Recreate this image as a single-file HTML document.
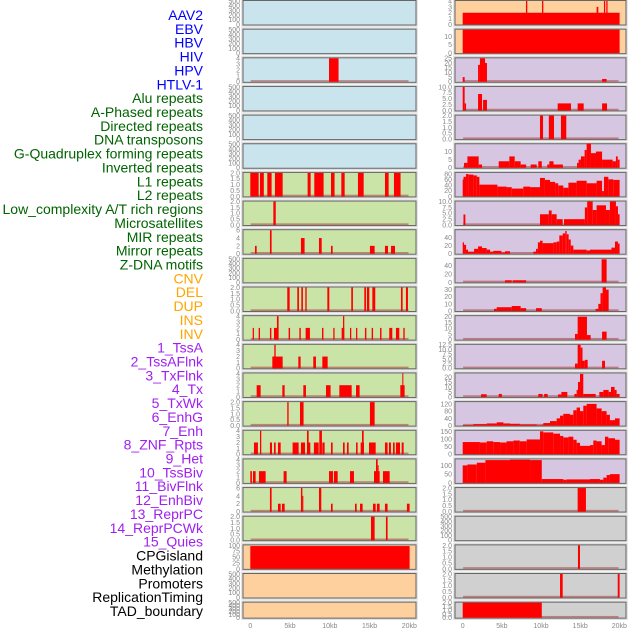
<!DOCTYPE html>
<html><head><meta charset="utf-8"><style>
html,body{margin:0;padding:0;background:#fff;width:630px;height:630px;overflow:hidden}
svg{display:block}
.lbl{font-family:"Liberation Sans",sans-serif;font-size:14px;text-anchor:end}
.tk{font-family:"Liberation Sans",sans-serif;font-size:7px;fill:#888;text-anchor:end}
.xt{font-family:"Liberation Sans",sans-serif;font-size:7px;fill:#888;text-anchor:middle}
</style></head><body>
<svg id="chart" width="630" height="630"></svg>
<script>
const labelNames = ["AAV2","EBV","HBV","HIV","HPV","HTLV-1","Alu repeats","A-Phased repeats","Directed repeats","DNA transposons","G-Quadruplex forming repeats","Inverted repeats","L1 repeats","L2 repeats","Low_complexity A/T rich regions","Microsatellites","MIR repeats","Mirror repeats","Z-DNA motifs","CNV","DEL","DUP","INS","INV","1_TssA","2_TssAFlnk","3_TxFlnk","4_Tx","5_TxWk","6_EnhG","7_Enh","8_ZNF_Rpts","9_Het","10_TssBiv","11_BivFlnk","12_EnhBiv","13_ReprPC","14_ReprPCWk","15_Quies","CPGisland","Methylation","Promoters","ReplicationTiming","TAD_boundary"];
const labelColors = ["#0000ff","#0000ff","#0000ff","#0000ff","#0000ff","#0000ff","#006400","#006400","#006400","#006400","#006400","#006400","#006400","#006400","#006400","#006400","#006400","#006400","#006400","#ffa500","#ffa500","#ffa500","#ffa500","#ffa500","#a020f0","#a020f0","#a020f0","#a020f0","#a020f0","#a020f0","#a020f0","#a020f0","#a020f0","#a020f0","#a020f0","#a020f0","#a020f0","#a020f0","#a020f0","#000","#000","#000","#000","#000"];
const panelBg = {blue:"#c9e4ec",green:"#cae3a7",orange:"#fdd09e",purple:"#d6c6e1",gray:"#d0d0d0"};
const panelKinds = ["blue","blue","blue","blue","blue","blue","green","green","green","green","green","green","green","green","green","green","green","green","green","orange","orange","orange","orange","orange","purple","purple","purple","purple","purple","purple","purple","purple","purple","purple","purple","purple","purple","purple","purple","gray","gray","gray","gray","gray"];
const T500=[0,100,200,300,400,500], T2=[0,0.5,1,1.5,2], T4=[0,1,2,3,4], T6=[0,2,4,6];
const panelTicks = [T500,T500,T4,T500,T500,T500,T2,T2,T6,T500,T2,T4,T4,T4,T2,T4,T4,T6,T2,[0,25,50,75,100],T500,T500,
  T4,[0,5,10],[0,5,10,15,20,25],[0,2.5,5,7.5,10],T2,[0,5,10],[0,20,40,60,80],[0,2.5,5,7.5,10],[0,20,40],[0,20,40],[0,10,20,30],[0,5,10,15,20],[0,2.5,5,7.5,10,12.5],[0,5,10,15,20],[0,40,80,120],[0,50,100,150],[0,50,100],T2,T500,T2,T2,T2];
const panelYMax = [500,500,4,500,500,500,2,2,6,500,2,4,4,4,2,4,4,6,2,100,500,500,
  4,14,25,10,2,14.5,84,10,58,56,33,20.5,12.5,23.5,130,154,134,2,500,2,2,2];
const panelBars = [
 [],[],[[9.9,11.1,4]],[],[],[],
 [[0,1.05,2],[1.22,1.7,2],[2.14,2.68,2],[3.1,4.07,2],[7.21,7.59,2],[8.05,9.22,2],[10.15,10.6,2],[11.45,11.87,2],[13.54,14.26,2],[16.94,17.4,2],[18.07,18.9,2]],
 [[2.9,3.2,2]],
 [[0.59,0.8,2],[2.47,2.68,6],[6.37,6.83,4],[8.64,8.98,4],[10.15,10.36,2],[15.05,15.64,2],[16.94,17.32,2],[17.7,18.2,2]],
 [],
 [[4.65,4.95,2],[5.91,6.12,2],[6.42,6.62,2],[6.92,7.09,2],[9.69,9.94,2],[12.7,12.91,2],[14.34,14.55,2],[14.67,14.97,2],[15.35,15.72,2],[18.95,19.16,2],[19.58,19.83,2]],
 [[0.3,0.46,2],[1.05,1.22,2],[2.47,2.65,2],[2.98,3.52,2],[3.35,3.56,4],[4.82,5.0,2],[6.17,6.35,2],[6.96,7.5,2],[9.02,9.2,2],[10.44,10.6,2],[11.49,11.82,2],[11.66,11.82,4],[12.54,12.7,2],[13.3,13.46,2],[14.42,14.6,2],[15.27,15.44,2],[16.32,16.5,2],[17.48,17.86,2],[18.32,18.74,2],[19.25,19.42,2]],
 [[2.77,4.07,2],[3.02,3.19,4],[6.04,6.33,2],[7.92,8.26,2],[9.06,9.73,2]],
 [[0.8,1.3,2],[4.03,4.32,2],[6.67,7.0,2],[9.52,10.1,2],[11.2,12.75,2],[13.3,13.75,2],[18.87,19.41,2],[19.12,19.25,4]],
 [[4.65,4.82,2],[6.25,6.7,2],[15.05,15.64,2]],
 [[0.46,0.96,2],[1.22,1.38,4],[2.47,2.73,2],[2.98,3.19,2],[3.48,3.82,2],[5.32,6.08,2],[6.37,6.88,2],[7.13,7.55,2],[7.13,7.34,4],[8.0,8.6,2],[8.68,9.01,4],[9.06,9.35,2],[10.15,10.36,2],[11.66,11.87,2],[12.16,12.37,2],[13.3,13.5,2],[13.88,14.3,2],[14.05,14.26,4],[14.93,15.77,2],[16.94,17.27,2],[17.44,17.69,2],[17.95,18.16,2],[18.32,18.83,2],[19.04,19.29,2]],
 [[0,0.2,2],[0.34,0.67,2],[1.09,1.93,2],[4.19,4.57,2],[9.9,10.4,2],[10.52,10.99,2],[12.54,13.04,2],[15.56,16.27,2],[15.81,16.02,4],[16.02,16.14,3],[16.69,17.53,2]],
 [[2.47,2.68,6],[3.48,3.82,2],[3.98,4.32,2],[6.37,6.55,6],[6.55,6.67,4],[8.64,8.93,6],[10.15,10.36,2],[13.17,13.38,2],[13.8,14.13,2],[15.43,15.77,2],[15.93,16.27,2],[16.94,17.27,2],[19.7,20.04,2]],
 [[15.18,15.64,2],[17.06,17.27,2]],
 [[0,20.04,97]],[],[],
 [[0,20.04,2],[8.08,8.25,4],[10.13,10.3,4],[17.1,17.32,3],[18.04,18.2,4],[18.34,18.5,4]],
 [[0,20.04,14]],
 [[0,0.25,5],[1.96,2.2,18],[2.2,2.85,25],[2.85,3.1,20],[17.8,18.38,3]],
 [[0,0.25,10],[0.25,0.43,3],[1.96,2.47,7],[2.6,3.1,4.5],[12.13,13.83,3],[14.68,15.45,3],[17.8,18.43,3]],
 [[9.87,10.26,2],[11.0,11.66,2],[12.55,13.23,2]],
 [[0.17,0.6,3],[0.6,2.04,7],[2.04,2.47,2],[4.6,5.96,4],[5.96,6.64,7],[6.64,7.4,4],[7.4,8.1,2],[8.68,9.45,2],[9.66,10.1,4],[10.8,11.06,2],[11.06,11.6,4],[11.6,12.8,2],[14.6,14.8,3],[14.8,15.1,5],[15.1,15.57,7],[15.57,15.83,11],[15.83,16.38,15],[16.38,17.02,9],[17.02,17.8,10],[17.8,19.15,5],[19.15,19.57,4],[19.57,19.8,7],[19.8,20.04,5]],
 "TxWk",
 [[0.1,0.34,4.5],[9.87,11.0,4.6],[11.0,11.36,6.2],[11.36,12.0,4.6],[12.0,12.77,2.5],[12.94,15.6,2.5],[15.6,15.9,7.5],[15.9,16.6,10],[16.6,17.1,6.4],[17.1,18.3,8.4],[18.3,18.8,6.4],[18.8,19.57,10],[19.57,19.83,8],[19.83,20.04,4.6]],
 "Enh",
 [[5.4,6.26,5],[6.38,8.1,5],[17.74,18.38,55]],
 [[4.0,4.34,3],[4.34,6.26,5.3],[6.26,7.4,7],[7.4,8.1,4],[9.36,10.1,4],[16.98,17.32,3],[17.32,17.6,10],[17.6,17.87,25],[17.87,18.3,33],[18.3,18.64,30]],
 [[14.34,14.68,5],[14.68,15.87,20],[15.87,16.34,4],[17.8,18.38,7]],
 [[14.34,14.68,2.5],[14.68,15.06,12.5],[15.06,15.3,11],[15.3,15.6,4],[15.6,15.96,4.5],[17.8,18.17,4]],
 [[2.34,3.06,2.7],[4.6,5.0,3],[9.66,10.2,3],[10.4,10.85,3],[12.17,12.6,2.5],[12.6,13.36,5],[14.26,14.55,3],[14.55,14.72,7],[14.72,14.98,15],[14.98,15.4,23],[15.4,16.98,3],[17.45,17.96,5],[17.96,18.64,7],[18.64,18.94,5],[18.94,19.4,10],[19.4,19.66,7],[19.66,20.04,3]],
 "ReprPC","ReprPCWk","Quies",
 [[14.68,15.74,2]],[],[[14.72,14.98,2]],
 [[12.43,12.77,2],[19.8,20.04,2]],
 [[0,10.1,2]]
];
const txWkEdges=[0,0.1,0.43,0.72,1.36,1.8,2.13,4.43,5.6,6.26,7.74,8.6,9.87,10.5,11.15,11.8,12.2,12.85,13.5,14.55,15.83,17.1,17.8,18.04,18.6,19.23,20.04];
const txWkValues=[60,70,80,78,75,70,42,35,33,28,35,33,66,59,52,47,39,31,49,56,47,56,19,70,61,59];
const enhEdges=[0,0.17,0.43,0.68,1.45,1.96,2.47,3.06,3.5,3.9,4.94,5.4,6.04,9.02,9.36,9.6,9.87,10.2,11.57,12.0,12.34,12.77,13.1,13.28,13.53,13.8,14.13,15.83,16.26,19.0,19.45,19.83,20.04];
const enhValues=[28,22,10,5,12,18,14,10,5,7,3,6,0,5,12,28,32,26,28,30,45,50,56,48,35,20,10,8,10,15,30,25];
const reprPCEdges=[0,1.36,3.06,4.34,5.2,6.04,7.3,9.45,10.1,10.3,11.15,12.0,12.43,12.85,13.7,14.13,14.55,14.98,15.4,15.83,17.1,17.74,18.38,18.8,19.45,20.04];
const reprPCValues=[3,8,12,18,12,10,6,2,5,14,25,40,55,65,60,85,100,80,110,120,95,80,60,30,40];
const reprPCWkEdges=[0,2.2,3.06,3.9,4.77,5.6,6.47,7.3,8.17,9.87,10.3,11.57,12.43,12.85,13.5,14.13,14.55,14.98,16.26,16.68,17.1,17.74,18.17,18.6,19.45,20.04];
const reprPCWkValues=[80,77,85,80,77,85,90,85,97,150,143,135,120,110,115,95,75,55,60,90,85,60,115,105,95];
const quiesEdges=[0,0.6,1.8,2.9,6.04,8.6,10.1,12.85,13.28,16.26,17.53,17.96,18.38,18.8,20.04];
const quiesValues=[100,105,115,130,132,130,22,18,20,22,18,30,45,50];
const xTickValues=[0,5,10,15,20];
const xTickLabels=["0","5kb","10kb","15kb","20kb"];

const steps={TxWk:[txWkEdges,txWkValues],Enh:[enhEdges,enhValues],ReprPC:[reprPCEdges,reprPCValues],ReprPCWk:[reprPCWkEdges,reprPCWkValues],Quies:[quiesEdges,quiesValues]};
function stepBars(e,v){const b=[];for(let i=0;i<v.length;i++)b.push([e[i],e[i+1],v[i]]);return b;}

const NS="http://www.w3.org/2000/svg";
const svg=document.getElementById('chart');
function mk(tag,attrs,parent){const el=document.createElementNS(NS,tag);for(const k in attrs)el.setAttribute(k,attrs[k]);(parent||svg).appendChild(el);return el;}
const cols=[{x:243,w:173,x0:250.3,x1:409.3,tx:240},{x:455,w:171,x0:462.7,x1:619.3,tx:452}];
function xScale(col,kb){const c=cols[col];return c.x0+kb*(c.x1-c.x0)/20;}
const PITCH=28.65;

labelNames.forEach((n,i)=>{
  const t=mk('text',{x:203,y:20+i*13.86,class:'lbl',fill:labelColors[i]});
  
  
  t.textContent=n;
});

panelBars.forEach((pb,i)=>{
  const col=i<22?0:1, row=i%22;
  const c=cols[col];
  const top=row*PITCH+0.5, h=row===21?16:24.5;
  const g=mk('g',{});
  
  
  mk('rect',{x:c.x-1,y:top-1,width:c.w+2,height:h+2,fill:'none',stroke:'#ddd','stroke-width':1.5},g);
  mk('rect',{x:c.x,y:top,width:c.w,height:h,fill:panelBg[panelKinds[i]],stroke:'#666','stroke-width':1},g);
  const ymax=panelYMax[i];
  const yS=v=>top+h-0.5-v/ymax*(h-1);
  const bars=typeof pb==='string'?stepBars(steps[pb][0],steps[pb][1]):pb;
  if(bars.length){
    const bl=mk('rect',{x:xScale(col,0.05),y:top+h-2.2,width:xScale(col,19.9)-xScale(col,0.05),height:1.7,fill:'rgba(170,60,60,0.55)'},g);
    
    
  }
  bars.forEach(b=>{
    const x0=xScale(col,b[0]),x1=xScale(col,b[1]),y=yS(b[2]);
    const r=mk('rect',{x:x0,y:y,width:Math.max(0.8,x1-x0),height:yS(0)-y,fill:'#ff0000'},g);
    
    
  });
  const ticks=panelTicks[i];
  const dec=ticks.some(t=>t%1!==0);
  ticks.forEach(t=>{
    const tx=mk('text',{x:c.tx,y:yS(t)+2.4,class:'tk'},g);
    
    
    tx.textContent=dec?t.toFixed(1):String(t);
  });
});

[0,1].forEach(col=>{
  xTickValues.forEach((v,k)=>{
    const t=mk('text',{x:xScale(col,v),y:628,class:'xt'});
    
    
    t.textContent=xTickLabels[k];
  });
});
</script>
</body></html>
